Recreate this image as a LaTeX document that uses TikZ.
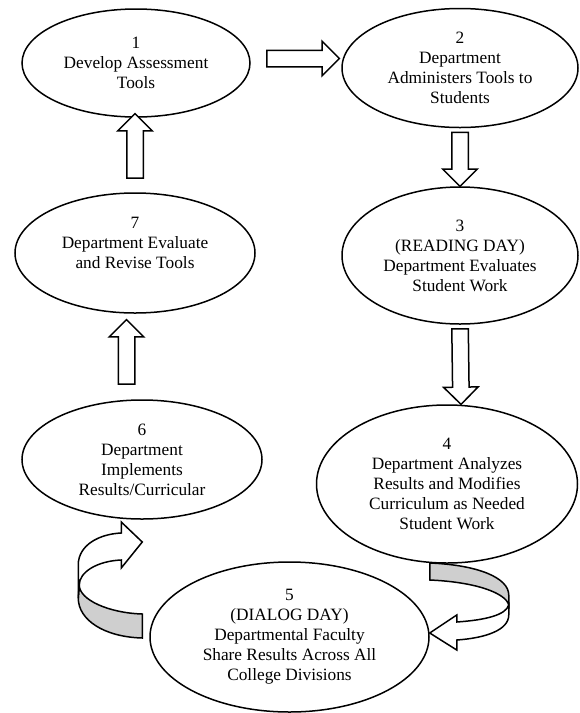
\documentclass[tikz,border=0pt]{standalone}
\usepackage{fontspec}
\setmainfont{Liberation Serif}
\usetikzlibrary{shapes.geometric, shapes.arrows, calc}
\tikzset{
	stage/.style={draw, ellipse, line width=1.5pt, inner sep=0pt, align=center, font=\fontsize{17.3}{20}\selectfont}, % the ellipses
	blockarrow/.style={draw, single arrow, line width=1.5pt, fill=white, inner xsep=0pt, inner ysep=7.5pt, single arrow head extend=9pt}, % straight open arrows
	band/.style={draw, line width=1.5pt, fill=black!19}, % back side of the bent arrows
	front/.style={draw, line width=1.5pt, fill=white}, % front side of the bent arrows
}
% block arrow from #1 to #2, as long as the gap
\newcommand{\flowarrow}[2]{%
	\path let \p1=(#1), \p2=(#2), \n1={veclen(\x2-\x1,\y2-\y1)} in
		(\p1) -- (\p2) node[midway, sloped, allow upside down, blockarrow, minimum height=\n1] {};}

\begin{document}
\begin{tikzpicture}[x=1pt, y=-1pt]
	\useasboundingbox (0,0) rectangle (579,713);
	\node[stage, minimum width=228, minimum height=108] (e1) at (136,63) {1\\Develop Assessment\\Tools};
	\node[stage, minimum width=236, minimum height=119] (e2) at (460,68) {2\\Department\\Administers Tools to\\Students};
	\node[stage, minimum width=236, minimum height=137] (e3) at (460,255.5) {3\\(READING DAY)\\Department Evaluates\\Student Work};
	\node[stage, minimum width=261, minimum height=158] (e4) at (447,484) {4\\Department Analyzes\\Results and Modifies\\Curriculum as Needed\\Student Work};
	\node[stage, minimum width=279, minimum height=150] (e5) at (289.5,637) {5\\(DIALOG DAY)\\Departmental Faculty\\Share Results Across All\\College Divisions};
	\node[stage, minimum width=240, minimum height=119] (e6) at (142,459.5) {6\\Department\\Implements\\Results/Curricular};
	\node[stage, minimum width=240, minimum height=120] (e7) at (135,253) {7\\Department Evaluate\\and Revise Tools\\ \mbox{}};

	\flowarrow{[xshift=12pt,yshift=4.5pt]e1.east}{[xshift=-6pt,yshift=9.5pt]e2.west}
	\flowarrow{e2.south}{[yshift=4pt]e3.north}
	\flowarrow{e3.south}{[xshift=14pt,yshift=4pt]e4.north}
	\flowarrow{[xshift=-15.5pt,yshift=11pt]e6.north}{[xshift=-8.5pt,yshift=-10pt]e7.south}
	\flowarrow{[yshift=10pt]e7.north}{[xshift=-1pt]e1.south}

	% bent arrow 4 -> 5
	\begin{scope}[shift={([yshift=4pt]e5.east)}]
		\draw[band] (0,-70) .. controls (49,-68) and (79,-55) .. (79,-38) -- (79,-28)
			.. controls (76,-40) and (46,-51) .. (0,-53) -- cycle;
		\draw[front] (79,-28) -- (79,-18) .. controls (79,-3) and (56,5) .. (27,7) -- (27,17) -- (0,0)
			-- (27,-18) -- (27,-11) .. controls (56,-13) and (76,-18) .. (79,-28) -- cycle;
	\end{scope}
	% bent arrow 5 -> 6
	\begin{scope}[shift={([xshift=-7pt,yshift=-1pt]e5.west)}]
		\draw[band] (-63,-53) .. controls (-63,-38) and (-33,-25) .. (0,-24) -- (0,0)
			.. controls (-38,-1) and (-64,-18) .. (-64,-40) -- cycle;
		\draw[front] (-64,-40) -- (-64,-73) .. controls (-64,-93) and (-43,-104) .. (-21,-105) -- (-21,-116)
			-- (0,-96) -- (-21,-70) -- (-21,-78) .. controls (-45,-77) and (-63,-66) .. (-63,-53) -- cycle;
	\end{scope}
\end{tikzpicture}
\end{document}
